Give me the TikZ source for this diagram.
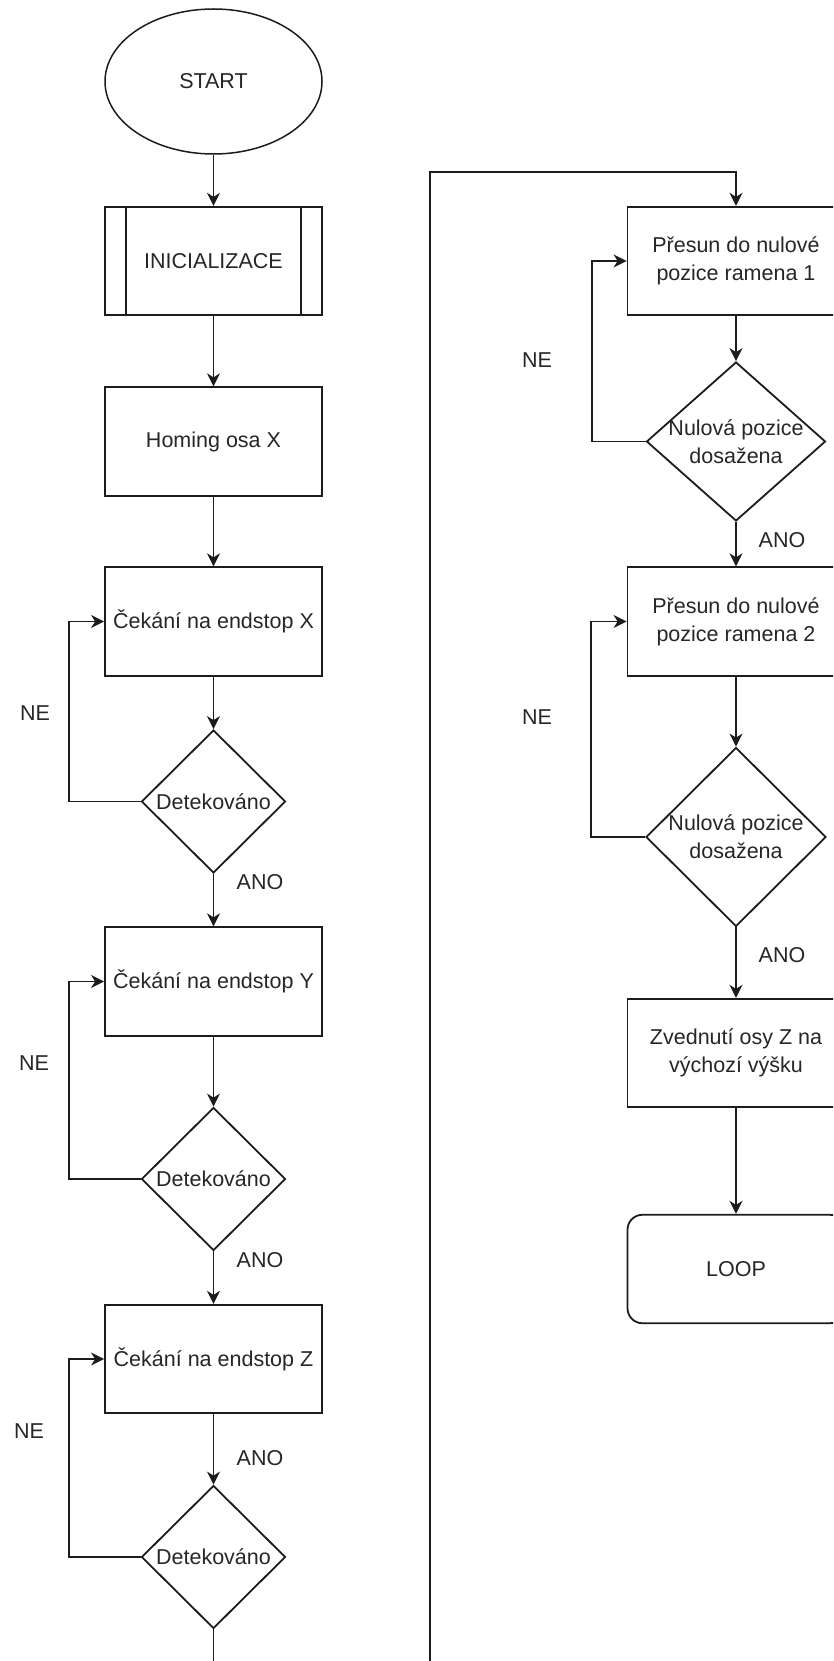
\documentclass[tikz,border=0pt]{standalone}
\usepackage{fontspec}
\setmainfont{Liberation Sans}
\usetikzlibrary{arrows.meta,shapes.geometric}
\definecolor{cara}{HTML}{1C1C1C}
\definecolor{pismo}{HTML}{262626}
\tikzset{
  sipka/.style={-{Stealth[length=13pt,width=13pt,inset=4pt]},cara,line width=1.8pt},
  blok/.style={draw=cara,line width=1.8pt,minimum width=217,minimum height=108.5,inner sep=0pt,align=center},
  zacatek/.style={ellipse,draw=cara,line width=1.5pt,minimum width=217,minimum height=145,inner sep=0pt},
  rozhod/.style 2 args={diamond,draw=cara,line width=1.8pt,minimum width=#1,minimum height=#2,inner sep=0pt},
  konec/.style={blok,rounded corners=15pt},
  popis/.style={inner sep=0pt},
}

\begin{document}
\begin{tikzpicture}[x=1pt,y=-1pt,font=\fontsize{21.5}{28}\selectfont,text=pismo]
  \useasboundingbox (0,0) rectangle (833,1661);
  \clip (0,0) rectangle (833,1661);
  % levy sloupec
  \node[zacatek] (start) at (213.5,81.5) {START};
  \node[blok] (init) at (213.5,261) {INICIALIZACE};
  \draw[cara,line width=1.8pt] ([xshift=22]init.north west) -- ([xshift=22]init.south west)
    ([xshift=-22]init.north east) -- ([xshift=-22]init.south east);
  \node[blok] (homing) at (213.5,441.5) {Homing osa X};
  \node[blok] (cx) at (213.5,621.5) {Čekání na endstop X};
  \node[rozhod={144}{143},label=center:Detekováno] (dx) at (213.5,801.5) {};
  \node[blok] (cy) at (213.5,981.5) {Čekání na endstop Y};
  \node[rozhod={144}{143},label=center:Detekováno] (dy) at (213.5,1179) {};
  \node[blok] (cz) at (213.5,1359) {Čekání na endstop Z};
  \node[rozhod={144}{143},label=center:Detekováno] (dz) at (213.5,1557) {};
  % pravy sloupec
  \node[blok] (r1) at (736,261) {Přesun do nulové\\pozice ramena 1};
  \node[rozhod={179}{159},label={[align=center]center:Nulová pozice\\dosažena}] (d1) at (736,441.5) {};
  \node[blok] (r2) at (736,621.5) {Přesun do nulové\\pozice ramena 2};
  \node[rozhod={180}{179},label={[align=center]center:Nulová pozice\\dosažena}] (d2) at (736,837) {};
  \node[blok] (r3) at (736,1053) {Zvednutí osy Z na\\výchozí výšku};
  \node[konec] (smycka) at (736,1269) {LOOP};
  \coordinate (dole) at (430,1700);
  \coordinate (nahore) at (430,172);

  \draw[sipka] (start) -- (init);
  \draw[sipka] (init) -- (homing);
  \draw[sipka] (homing) -- (cx);
  \draw[sipka] (cx) -- (dx);
  \draw[sipka] (dx) -- (cy);
  \draw[sipka] (cy) -- (dy);
  \draw[sipka] (dy) -- (cz);
  \draw[sipka] (cz) -- (dz);
  \draw[sipka] (dx.west) -- ++(-72,0) |- (cx.west);
  \draw[sipka] (dy.west) -- ++(-72,0) |- (cy.west);
  \draw[sipka] (dz.west) -- ++(-72,0) |- (cz.west);
  \draw[sipka] (dz.south) |- (dole) -- (nahore) -| (r1.north);
  \draw[sipka] (r1) -- (d1);
  \draw[sipka] (d1) -- (r2);
  \draw[sipka] (r2) -- (d2);
  \draw[sipka] (d2) -- (r3);
  \draw[sipka] (r3) -- (smycka);
  \draw[sipka] (d1.west) -- ++(-54,0) |- (r1.west);
  \draw[sipka] (d2.west) -- ++(-54,0) |- (r2.west);

  \node[popis] (ne1) at (35,713) {NE};
  \node[popis] (ano1) at (260,882) {ANO};
  \node[popis] (ne2) at (34,1063) {NE};
  \node[popis] (ano2) at (260,1260) {ANO};
  \node[popis] (ne3) at (29,1431) {NE};
  \node[popis] (ano3) at (260,1458) {ANO};
  \node[popis] (ne4) at (537,360) {NE};
  \node[popis] (ano4) at (782,540) {ANO};
  \node[popis] (ne5) at (537,717) {NE};
  \node[popis] (ano5) at (782,955) {ANO};
\end{tikzpicture}
\end{document}
